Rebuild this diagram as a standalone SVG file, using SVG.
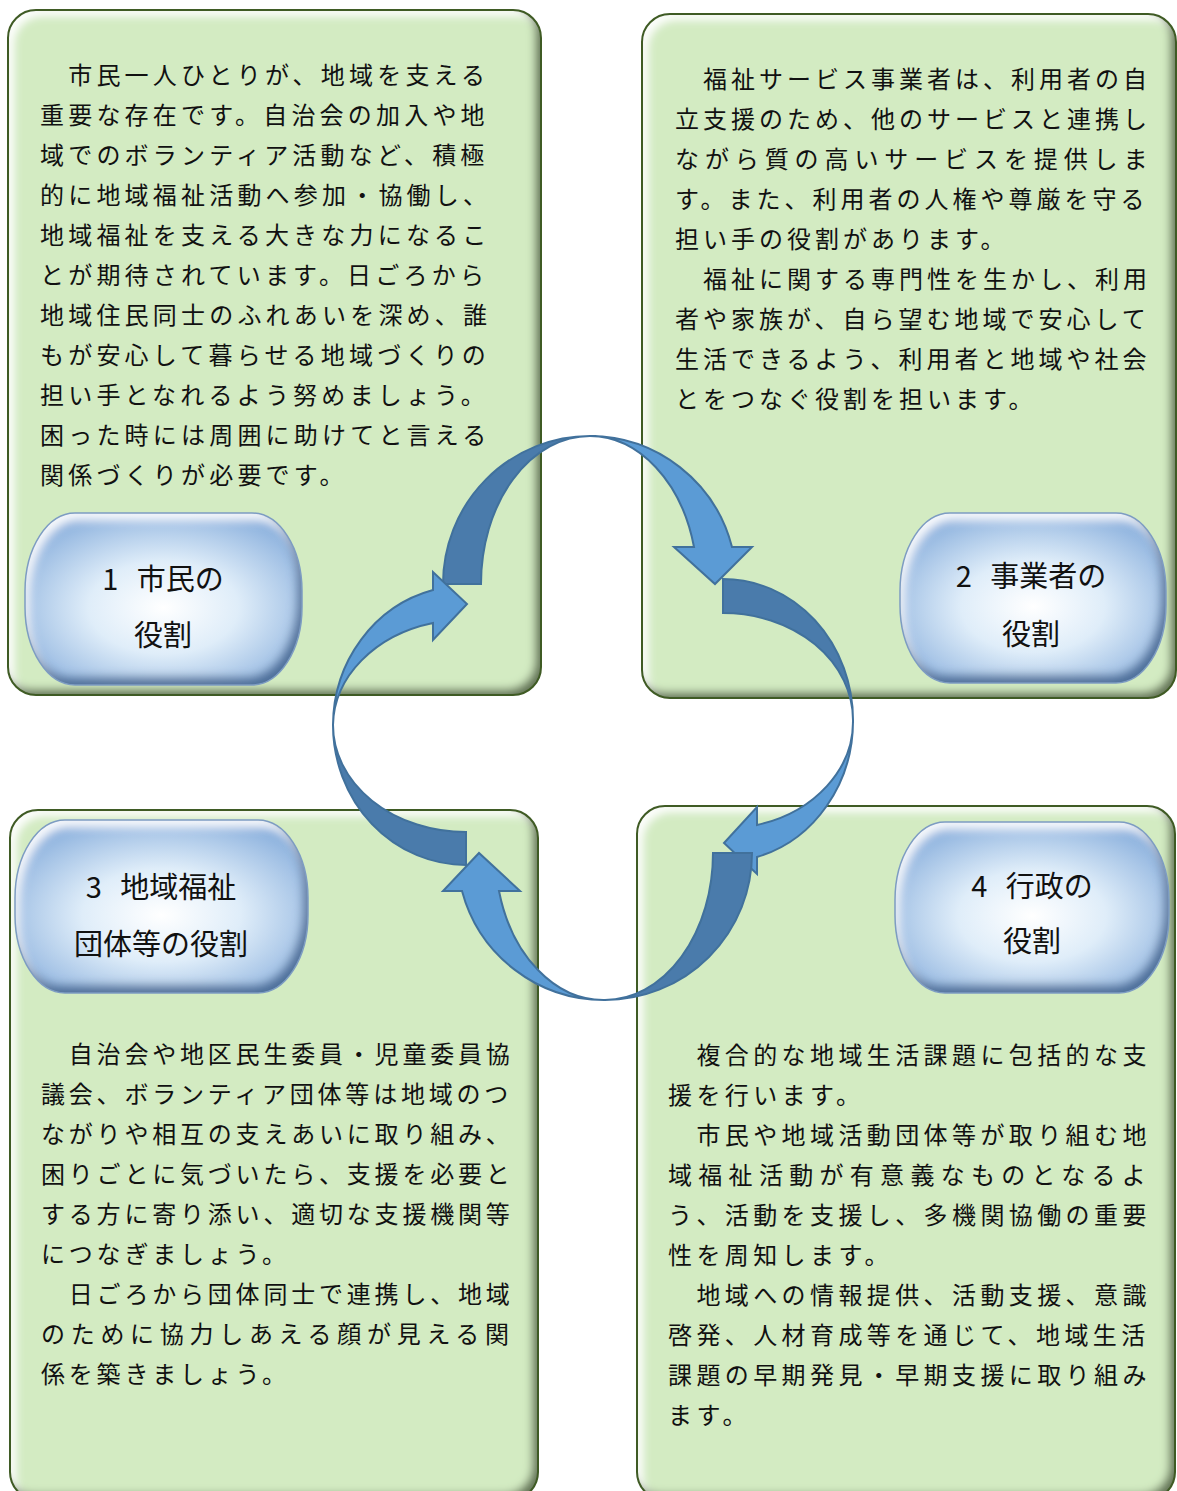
<svg xmlns="http://www.w3.org/2000/svg" width="1177" height="1491" viewBox="0 0 1177 1491">
<style>
.box{fill:#d3ebc2;}
.boxline{fill:none;stroke:#3f5b24;stroke-width:2;}
.pill{fill:url(#pillGrad);}
.pillline{fill:none;stroke:#7d9cc2;stroke-width:1.5;}
.body{font-family:"Noto Sans CJK JP","Noto Sans",sans-serif;font-size:24px;fill:#111;letter-spacing:4px;}
.lab{font-family:"Noto Sans CJK JP","Noto Sans",sans-serif;font-size:29px;fill:#111;text-anchor:middle;}
.dark{fill:#4a7bab;stroke:#41719c;stroke-width:2;stroke-linejoin:miter;}
.light{fill:#5b9bd5;stroke:#41719c;stroke-width:2;stroke-linejoin:miter;}
</style>
<defs>
<radialGradient id="pillGrad" cx="50%" cy="55%" r="60%">
<stop offset="0" stop-color="#ffffff"/>
<stop offset="0.45" stop-color="#dfedf9"/>
<stop offset="1" stop-color="#8db2de"/>
</radialGradient>
<filter id="bevelG" x="-5%" y="-5%" width="110%" height="110%">
<feGaussianBlur in="SourceAlpha" stdDeviation="4" result="blur"/>
<feOffset in="blur" dx="-6" dy="-6" result="offTL"/>
<feComposite in="SourceAlpha" in2="offTL" operator="arithmetic" k2="1" k3="-1" result="innerBR"/>
<feFlood flood-color="#33461f" flood-opacity="0.85"/>
<feComposite in2="innerBR" operator="in" result="shadow"/>
<feOffset in="blur" dx="6" dy="6" result="offBR"/>
<feComposite in="SourceAlpha" in2="offBR" operator="arithmetic" k2="1" k3="-1" result="innerTL"/>
<feFlood flood-color="#ffffff" flood-opacity="0.95"/>
<feComposite in2="innerTL" operator="in" result="hl"/>
<feMerge><feMergeNode in="SourceGraphic"/><feMergeNode in="hl"/><feMergeNode in="shadow"/></feMerge>
</filter>
<filter id="bevelB" x="-10%" y="-10%" width="120%" height="120%">
<feGaussianBlur in="SourceAlpha" stdDeviation="5" result="blur"/>
<feOffset in="blur" dx="-5" dy="-8" result="offTL"/>
<feComposite in="SourceAlpha" in2="offTL" operator="arithmetic" k2="1" k3="-1" result="innerBR"/>
<feFlood flood-color="#3f6390" flood-opacity="0.9"/>
<feComposite in2="innerBR" operator="in" result="shadow"/>
<feOffset in="blur" dx="4" dy="7" result="offBR"/>
<feComposite in="SourceAlpha" in2="offBR" operator="arithmetic" k2="1" k3="-1" result="innerTL"/>
<feFlood flood-color="#ffffff" flood-opacity="0.9"/>
<feComposite in2="innerTL" operator="in" result="hl"/>
<feMerge><feMergeNode in="SourceGraphic"/><feMergeNode in="hl"/><feMergeNode in="shadow"/></feMerge>
</filter>
</defs>
<rect x="0" y="0" width="1177" height="1491" fill="#ffffff"/>

<g id="node1">
<rect class="box" x="8" y="10" width="533" height="685" rx="28" filter="url(#bevelG)"/>
<rect class="boxline" x="8" y="10" width="533" height="685" rx="28"/>
<text class="body" style="letter-spacing:4.2px">
<tspan x="40" y="84">　市民一人ひとりが、地域を支える</tspan>
<tspan x="40" y="124">重要な存在です。自治会の加入や地</tspan>
<tspan x="40" y="164">域でのボランティア活動など、積極</tspan>
<tspan x="40" y="204">的に地域福祉活動へ参加・協働し、</tspan>
<tspan x="40" y="244">地域福祉を支える大きな力になるこ</tspan>
<tspan x="40" y="284">とが期待されています。日ごろから</tspan>
<tspan x="40" y="324">地域住民同士のふれあいを深め、誰</tspan>
<tspan x="40" y="364">もが安心して暮らせる地域づくりの</tspan>
<tspan x="40" y="404">担い手となれるよう努めましょう。</tspan>
<tspan x="40" y="444">困った時には周囲に助けてと言える</tspan>
<tspan x="40" y="484">関係づくりが必要です。</tspan>
</text>
<rect class="pill" x="25" y="513" width="277" height="172" rx="50" ry="78" filter="url(#bevelB)"/>
<rect class="pillline" x="25" y="513" width="277" height="172" rx="50" ry="78"/>
<text class="lab"><tspan x="163" y="590">1 <tspan dx="12">市民の</tspan></tspan><tspan x="163" y="646">役割</tspan></text>
</g>

<g id="node2">
<rect class="box" x="642" y="14" width="534" height="684" rx="28" filter="url(#bevelG)"/>
<rect class="boxline" x="642" y="14" width="534" height="684" rx="28"/>
<text class="body">
<tspan x="675" y="88">　福祉サービス事業者は、利用者の自</tspan>
<tspan x="675" y="128">立支援のため、他のサービスと連携し</tspan>
<tspan x="675" y="168" style="letter-spacing:5.9px">ながら質の高いサービスを提供しま</tspan>
<tspan x="675" y="208">す。また、利用者の人権や尊厳を守る</tspan>
<tspan x="675" y="248">担い手の役割があります。</tspan>
<tspan x="675" y="288">　福祉に関する専門性を生かし、利用</tspan>
<tspan x="675" y="328">者や家族が、自ら望む地域で安心して</tspan>
<tspan x="675" y="368">生活できるよう、利用者と地域や社会</tspan>
<tspan x="675" y="408">とをつなぐ役割を担います。</tspan>
</text>
<rect class="pill" x="900" y="513" width="266" height="170" rx="50" ry="78" filter="url(#bevelB)"/>
<rect class="pillline" x="900" y="513" width="266" height="170" rx="50" ry="78"/>
<text class="lab"><tspan x="1031" y="587">2 <tspan dx="12">事業者の</tspan></tspan><tspan x="1031" y="645">役割</tspan></text>
</g>

<g id="node3">
<rect class="box" x="10" y="810" width="528" height="690" rx="28" filter="url(#bevelG)"/>
<rect class="boxline" x="10" y="810" width="528" height="690" rx="28"/>
<rect class="pill" x="15" y="820" width="293" height="173" rx="50" ry="78" filter="url(#bevelB)"/>
<rect class="pillline" x="15" y="820" width="293" height="173" rx="50" ry="78"/>
<text class="lab"><tspan x="161" y="898">3 <tspan dx="12">地域福祉</tspan></tspan><tspan x="161" y="955">団体等の役割</tspan></text>
<text class="body" style="letter-spacing:3.8px">
<tspan x="41" y="1063">　自治会や地区民生委員・児童委員協</tspan>
<tspan x="41" y="1103">議会、ボランティア団体等は地域のつ</tspan>
<tspan x="41" y="1143">ながりや相互の支えあいに取り組み、</tspan>
<tspan x="41" y="1183">困りごとに気づいたら、支援を必要と</tspan>
<tspan x="41" y="1223">する方に寄り添い、適切な支援機関等</tspan>
<tspan x="41" y="1263">につなぎましょう。</tspan>
<tspan x="41" y="1303">　日ごろから団体同士で連携し、地域</tspan>
<tspan x="41" y="1343" style="letter-spacing:5.7px">のために協力しあえる顔が見える関</tspan>
<tspan x="41" y="1383">係を築きましょう。</tspan>
</text>
</g>

<g id="node4">
<rect class="box" x="637" y="806" width="538" height="694" rx="28" filter="url(#bevelG)"/>
<rect class="boxline" x="637" y="806" width="538" height="694" rx="28"/>
<rect class="pill" x="895" y="822" width="274" height="171" rx="50" ry="78" filter="url(#bevelB)"/>
<rect class="pillline" x="895" y="822" width="274" height="171" rx="50" ry="78"/>
<text class="lab"><tspan x="1032" y="897">4 <tspan dx="12">行政の</tspan></tspan><tspan x="1032" y="952">役割</tspan></text>
<text class="body" style="letter-spacing:4.4px">
<tspan x="668" y="1064">　複合的な地域生活課題に包括的な支</tspan>
<tspan x="668" y="1104">援を行います。</tspan>
<tspan x="668" y="1144">　市民や地域活動団体等が取り組む地</tspan>
<tspan x="668" y="1184" style="letter-spacing:6.3px">域福祉活動が有意義なものとなるよ</tspan>
<tspan x="668" y="1224">う、活動を支援し、多機関協働の重要</tspan>
<tspan x="668" y="1264">性を周知します。</tspan>
<tspan x="668" y="1304">　地域への情報提供、活動支援、意識</tspan>
<tspan x="668" y="1344">啓発、人材育成等を通じて、地域生活</tspan>
<tspan x="668" y="1384">課題の早期発見・早期支援に取り組み</tspan>
<tspan x="668" y="1424">ます。</tspan>
</text>
</g>

<g id="connectors">
<g id="arrow1">
<path class="dark" d="M443,584 A147,148 0 0 1 590,436 A109,148 0 0 0 481,584 Z"/>
<path class="light" d="M590,436 A147,148 0 0 1 732,547 L752,547 L715,584 L674,547 L694,547 A108,148 0 0 0 590,436 Z"/>
</g>
<g id="arrow2">
<path class="dark" d="M723,579 A130,141 0 0 1 853,720 A130,107 0 0 0 723,613 Z"/>
<path class="light" d="M853,720 A130,141 0 0 1 757,857 L757,874 L724,843 L757,807 L757,825 A130,107 0 0 0 853,720 Z"/>
</g>
<g id="arrow3">
<path class="dark" d="M752,853 A147,147 0 0 1 605,1000 A108,147 0 0 0 713,853 Z"/>
<path class="light" d="M605,1000 A147,147 0 0 1 462,891 L443,891 L479,853 L520,891 L499,891 A108,147 0 0 0 605,1000 Z"/>
</g>
<g id="arrow4">
<path class="dark" d="M466,865 A133,140 0 0 1 333,725 A133,107 0 0 0 466,832 Z"/>
<path class="light" d="M333,725 A133,140 0 0 1 433,590 L433,572 L467,604 L433,640 L433,623 A133,107 0 0 0 333,725 Z"/>
</g>
</g>
</svg>
